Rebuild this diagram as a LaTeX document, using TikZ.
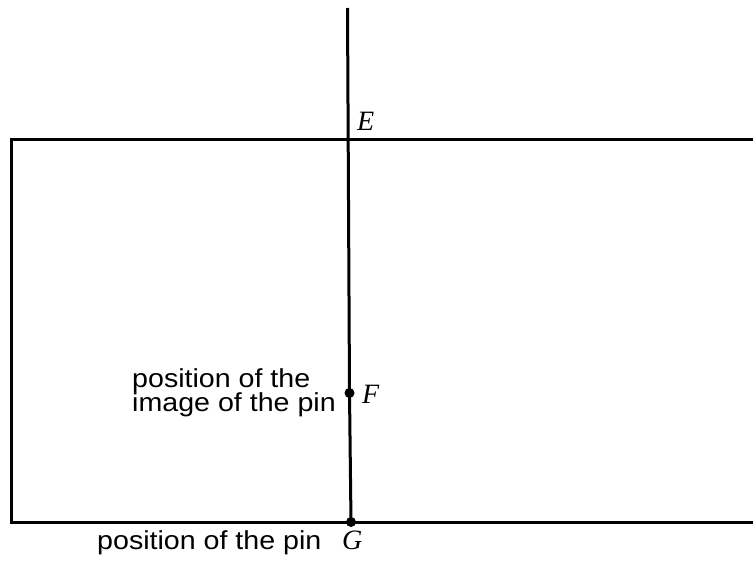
\documentclass[tikz,border=0pt]{standalone}
\usepackage{fontspec}
\setmainfont{Liberation Sans}[FakeStretch=1.1]
\newfontfamily\tms{Liberation Serif}
\begin{document}
\begin{tikzpicture}[x=1pt,y=-1pt,
  edge/.style={line width=3pt},
  lbl/.style={font=\fontsize{26}{24}\selectfont, inner sep=0pt},
  mlbl/.style={font=\fontsize{28}{28}\selectfont\tms\itshape, inner sep=0pt},
  pin/.style={circle, fill=black, inner sep=0pt, minimum size=10pt}]
\useasboundingbox (0,0) rectangle (753,565);
\coordinate (tl) at (11,139);
\coordinate (tr) at (753,139);
\coordinate (bl) at (11,522);
\coordinate (br) at (753,522);
\coordinate (top) at (347.5,8);
\node[pin] (G) at (351,522) {};
\node[pin] (F) at (349.5,393) {};
\draw[edge] (tr) -- (tl) -- (bl) -- (br);
\draw[edge] (top) -- (F.center) -- (G.center);
\node[mlbl, anchor=base west] (Elbl) at (357,130) {E};
\node[mlbl, anchor=base west] (Flbl) at (362,403) {F};
\node[mlbl, anchor=base west] (Glbl) at (342,549) {G};
\node[lbl, anchor=base west] (t1) at (132,387) {position of the};
\node[lbl, anchor=base west] (t2) at (132,411) {image of the pin};
\node[lbl, anchor=base west] (t3) at (97,549) {position of the pin};
\end{tikzpicture}
\end{document}
